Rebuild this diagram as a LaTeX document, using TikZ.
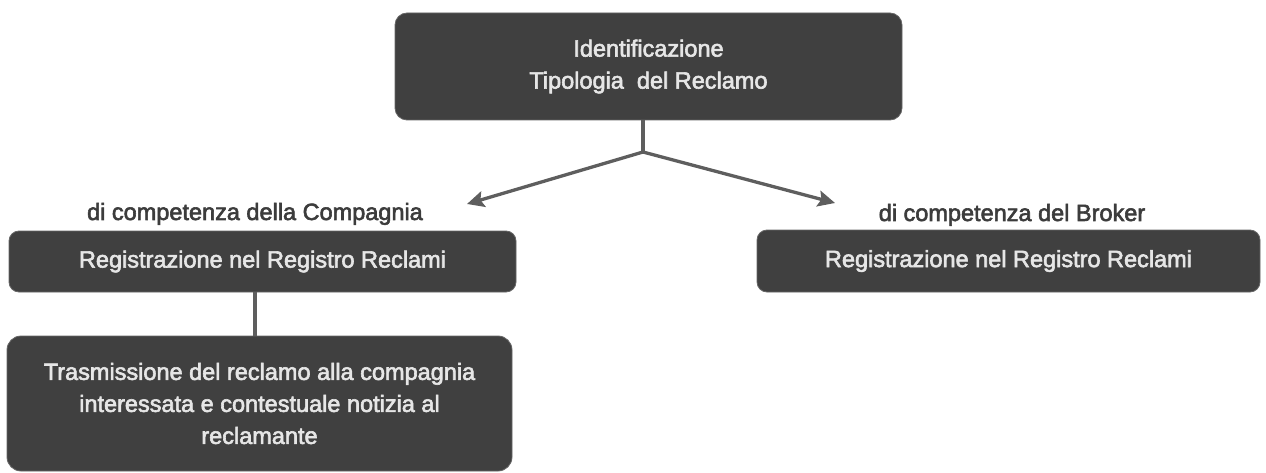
\documentclass[tikz,border=0pt]{standalone}
\usepackage{fontspec}
\setmainfont{Liberation Sans}[FakeBold=2.5]
\usetikzlibrary{arrows.meta}
\definecolor{boxfill}{HTML}{404040}
\definecolor{boxtext}{HTML}{E6E6E6}
\definecolor{linecol}{HTML}{5E5E5E}
\definecolor{labcol}{HTML}{3C3C3C}
\begin{document}
\begin{tikzpicture}[x=1pt,y=-1pt,
  darkbox/.style={rectangle, rounded corners=12pt, fill=boxfill, draw=boxfill!80!white, line width=0.8pt,
    text=boxtext, align=center, inner sep=0pt, font=\fontsize{23.5}{32}\selectfont},
  lab/.style={text=labcol, inner sep=0pt, font=\fontsize{23.5}{28}\selectfont},
  conn/.style={draw=linecol, line width=3.3pt},
  arr/.style={conn, -{Stealth[length=17pt,width=16pt,inset=3pt]}}
]
\useasboundingbox (0,0) rectangle (1266,473);
\node[darkbox, minimum width=507pt, minimum height=107pt] (top) at (648.5,66.5)
  {Identificazione\\Tipologia\ \ del Reclamo};
\node[darkbox, rounded corners=10pt, minimum width=507pt, minimum height=61pt] (comp) at (262.5,261.5)
  {Registrazione nel Registro Reclami};
\node[darkbox, rounded corners=14pt, minimum width=505pt, minimum height=135pt] (trasm) at (259.5,403.5)
  {Trasmissione del reclamo alla compagnia\\interessata e contestuale notizia al\\reclamante};
\node[darkbox, rounded corners=10pt, minimum width=503pt, minimum height=62pt] (brok) at (1008.5,261)
  {Registrazione nel Registro Reclami};
\node[lab, anchor=base] (lcomp) at (255,220) {di competenza della Compagnia};
\node[lab, anchor=base] (lbrok) at (1012,221) {di competenza del Broker};
\coordinate (split) at (643,152);
\coordinate (ltip) at (467,204);
\coordinate (rtip) at (835,203);
\draw[conn] (top.south -| split) -- (split);
\draw[arr] (split) -- (ltip);
\draw[arr] (split) -- (rtip);
\draw[conn] (comp.south -| 255,0) -- (trasm.north -| 255,0);
\end{tikzpicture}
\end{document}
